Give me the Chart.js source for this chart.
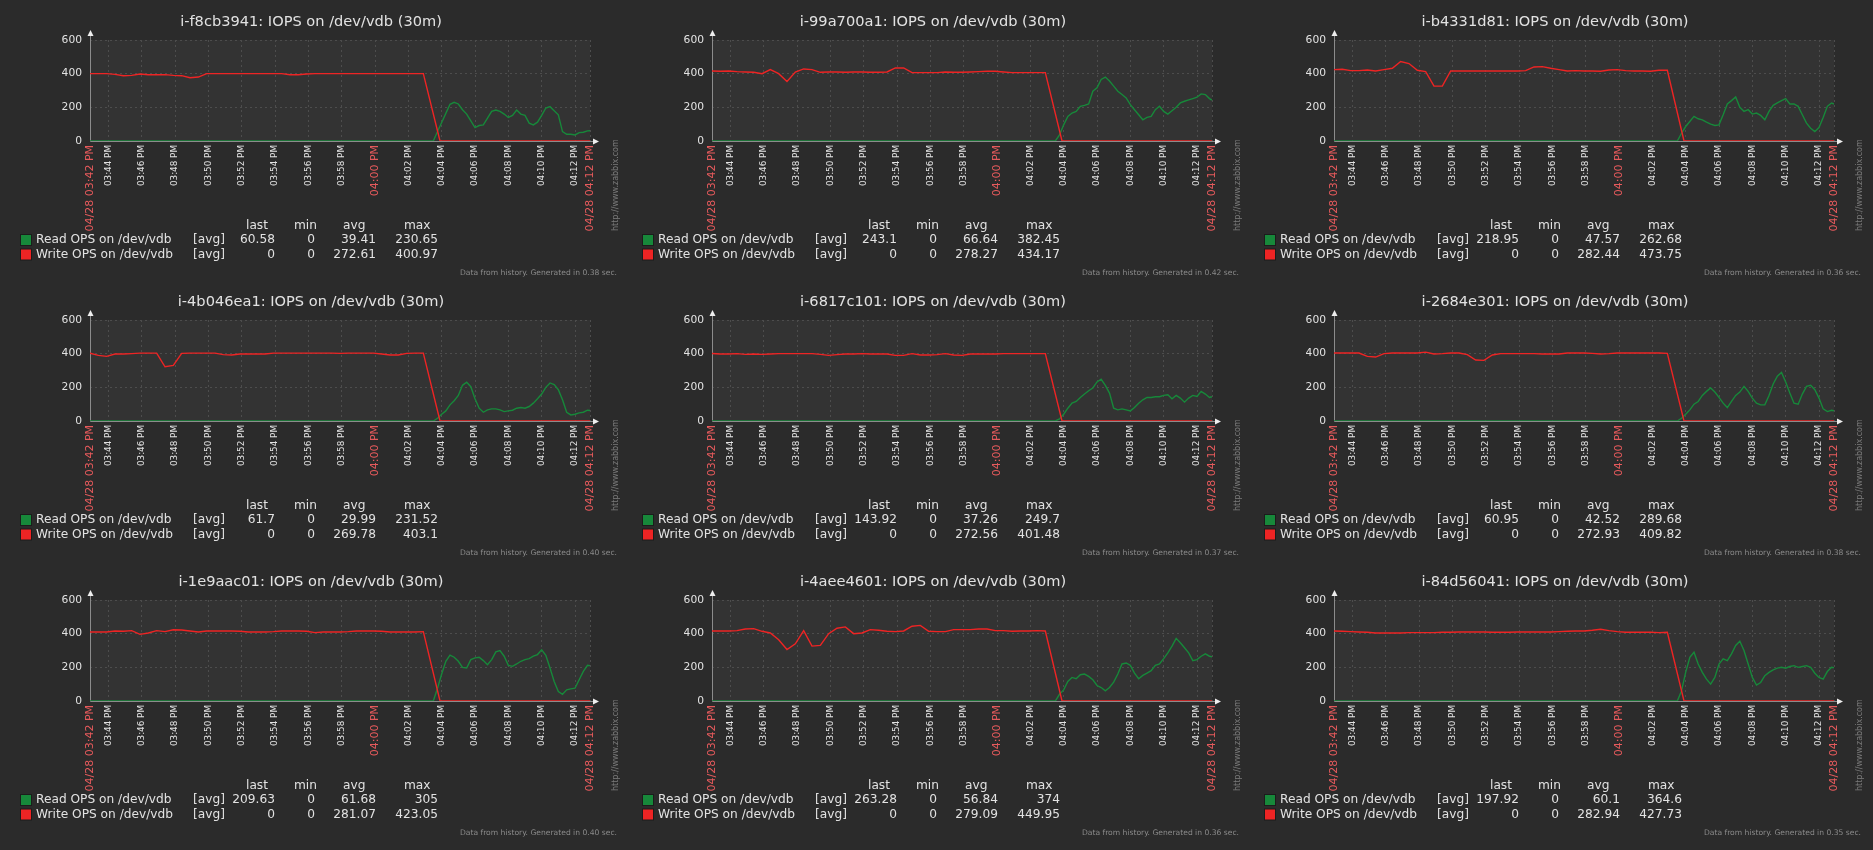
<!DOCTYPE html>
<html>
<head>
<meta charset="utf-8">
<title>IOPS on /dev/vdb (30m)</title>
<script src="https://cdn.jsdelivr.net/npm/chart.js@4.4.1/dist/chart.umd.min.js"></script>
<style>
  html, body { margin: 0; padding: 0; background: #2b2b2b; }
  #grid { position: relative; width: 1873px; height: 850px; background: #2b2b2b; overflow: hidden; }
  .panel { position: absolute; width: 622px; height: 280px; }
  .panel canvas { display: block; }
</style>
</head>
<body>
<div id="grid"></div>
<script>
// hosts, one graph each (row by row)
const HOSTS = ['i-f8cb3941', 'i-99a700a1', 'i-b4331d81',
               'i-4b046ea1', 'i-6817c101', 'i-2684e301',
               'i-1e9aac01', 'i-4aee4601', 'i-84d56041'];
const GEN_TIMES = ['0.38', '0.42', '0.36', '0.40', '0.37', '0.38', '0.40', '0.36', '0.35'];

// x axis = minutes after 03:42 PM
const TICK_MINUTES = [0.9, 2, 4, 6, 8, 10, 12, 14, 16, 18, 20, 22, 24, 26, 28, 30, 30.9];
const TICK_LABELS = ['04/28 03:42 PM', '03:44 PM', '03:46 PM', '03:48 PM', '03:50 PM', '03:52 PM',
  '03:54 PM', '03:56 PM', '03:58 PM', '04:00 PM', '04:02 PM', '04:04 PM', '04:06 PM',
  '04:08 PM', '04:10 PM', '04:12 PM', '04/28 04:12 PM'];
const RED_LABELS = ['04/28 03:42 PM', '04:00 PM', '04/28 04:12 PM'];
const Y_TICKS = [0, 200, 400, 600];

// sample times (minutes) for the two items
const WRITE_T = [0.9, 1.4, 1.9, 2.4, 2.9, 3.4, 3.9, 4.4, 4.9, 5.4, 5.9, 6.4, 6.9, 7.4, 7.9, 8.4,
  8.9, 9.4, 9.9, 10.4, 10.9, 11.4, 11.9, 12.4, 12.9, 13.4, 13.9, 14.4, 14.9, 15.4, 15.9, 16.4,
  16.9, 17.4, 17.9, 18.4, 18.9, 19.4, 19.9, 20.4, 20.9, 21.9, 30.9];
const READ_T = [0.9, 21.5, 21.75, 22, 22.25, 22.5, 22.75, 23, 23.25, 23.5, 23.75, 24, 24.25, 24.5,
  24.75, 25, 25.25, 25.5, 25.75, 26, 26.25, 26.5, 26.75, 27, 27.25, 27.5, 27.75, 28, 28.25, 28.5,
  28.75, 29, 29.25, 29.5, 29.75, 30, 30.25, 30.5, 30.75, 30.9];

// Write OPS on /dev/vdb
const write1 = [400, 400, 400, 396, 388, 390, 398, 394, 394, 394, 390, 388, 376, 380, 400, 400, 400, 400, 400, 400,
  400, 400, 400, 400, 394, 394, 398, 400, 400, 400, 400, 400, 400, 400, 400, 400, 400, 400, 400, 400, 400, 0, 0];
const write2 = [416, 414, 416, 412, 410, 408, 400, 424, 400, 354, 410, 428, 424, 408, 410, 410, 408, 410, 410, 408,
  408, 410, 434, 434, 406, 406, 406, 406, 410, 408, 408, 410, 412, 414, 414, 410, 406, 406, 406, 406, 406, 0, 0];
const write3 = [424, 426, 418, 418, 422, 416, 424, 432, 472, 460, 420, 412, 326, 326, 416, 416, 416, 416, 416, 416,
  416, 416, 416, 418, 440, 442, 432, 424, 416, 418, 416, 416, 414, 422, 424, 418, 416, 416, 414, 420, 420, 0, 0];
const write4 = [403, 390, 384, 398, 398, 400, 403, 403, 403, 322, 330, 402, 403, 403, 403, 403, 394, 392, 398, 398,
  398, 398, 403, 403, 403, 403, 403, 403, 403, 403, 402, 403, 403, 403, 403, 398, 392, 392, 402, 403, 403, 0, 0];
const write5 = [401, 398, 398, 400, 396, 398, 396, 398, 400, 400, 400, 400, 400, 396, 390, 394, 398, 398, 400, 398,
  398, 398, 390, 390, 400, 392, 392, 394, 400, 392, 390, 398, 398, 398, 398, 400, 400, 400, 400, 400, 400, 0, 0];
const write6 = [404, 404, 404, 404, 384, 380, 400, 404, 404, 404, 404, 409, 398, 400, 404, 404, 394, 362, 360, 392,
  400, 400, 400, 400, 400, 398, 398, 398, 404, 404, 404, 402, 398, 400, 404, 404, 404, 404, 404, 404, 402, 0, 0];
const write7 = [410, 410, 410, 416, 414, 418, 396, 404, 418, 412, 423, 422, 416, 410, 416, 416, 416, 416, 414, 410,
  410, 410, 412, 416, 416, 416, 414, 406, 410, 410, 410, 412, 416, 416, 416, 414, 410, 410, 410, 410, 412, 0, 0];
const write8 = [416, 416, 416, 418, 428, 430, 414, 404, 364, 306, 340, 418, 326, 330, 400, 432, 440, 400, 404, 424,
  420, 414, 412, 416, 444, 449, 414, 412, 412, 424, 424, 424, 428, 428, 418, 418, 414, 416, 416, 418, 416, 0, 0];
const write9 = [416, 414, 412, 410, 408, 404, 404, 404, 404, 406, 406, 406, 406, 408, 408, 410, 410, 410, 410, 408,
  408, 408, 410, 410, 410, 410, 410, 412, 414, 416, 416, 420, 426, 418, 412, 408, 408, 408, 408, 406, 408, 0, 0];

// Read OPS on /dev/vdb
const read1 = [0, 0, 56, 110, 164, 218, 230, 220, 186, 160, 120, 80, 92, 96, 136, 176, 184, 176, 160, 140, 152,
  184, 160, 152, 106, 96, 112, 152, 196, 204, 180, 156, 56, 40, 40, 36, 50, 52, 60, 61];
const read2 = [0, 0, 36, 96, 146, 166, 176, 206, 212, 220, 296, 316, 366, 380, 356, 326, 296, 276, 256, 216, 186,
  156, 126, 140, 146, 186, 206, 176, 160, 180, 200, 226, 236, 244, 252, 260, 280, 276, 252, 243];
const read3 = [0, 0, 46, 86, 116, 146, 132, 126, 112, 100, 92, 96, 156, 220, 240, 262, 200, 176, 186, 160, 166,
  152, 126, 176, 212, 226, 240, 252, 220, 220, 206, 156, 106, 76, 56, 80, 140, 206, 226, 219];
const read4 = [0, 0, 16, 40, 60, 96, 120, 152, 212, 230, 204, 132, 76, 52, 66, 72, 72, 66, 56, 60, 64,
  76, 80, 76, 86, 106, 132, 160, 200, 226, 216, 186, 126, 52, 36, 40, 48, 52, 64, 62];
const read5 = [0, 0, 12, 40, 76, 106, 116, 140, 160, 180, 196, 232, 248, 212, 166, 76, 66, 72, 66, 60, 80,
  106, 126, 140, 140, 144, 144, 152, 156, 132, 152, 136, 112, 136, 152, 146, 176, 160, 140, 144];
const read6 = [0, 0, 16, 40, 66, 100, 116, 152, 176, 196, 172, 140, 106, 80, 116, 152, 172, 206, 176, 136, 106,
  96, 96, 152, 220, 266, 288, 232, 166, 106, 100, 160, 206, 212, 186, 136, 72, 56, 64, 61];
const read7 = [0, 0, 76, 160, 236, 272, 260, 236, 200, 196, 246, 256, 260, 240, 216, 246, 292, 300, 266, 212, 206,
  220, 236, 246, 252, 266, 276, 304, 272, 196, 116, 56, 40, 66, 72, 76, 126, 176, 212, 210];
const read8 = [0, 0, 40, 66, 116, 140, 132, 156, 160, 146, 126, 92, 80, 60, 80, 112, 160, 220, 226, 212, 166,
  132, 152, 166, 180, 212, 220, 252, 286, 326, 372, 346, 316, 286, 240, 246, 266, 280, 266, 263];
const read9 = [0, 0, 60, 170, 260, 290, 220, 170, 130, 100, 140, 220, 250, 240, 280, 330, 355, 300, 220, 140, 95,
  110, 150, 170, 185, 195, 200, 195, 205, 210, 200, 205, 210, 200, 165, 140, 130, 175, 200, 198];

const writeSeries = [write1, write2, write3, write4, write5, write6, write7, write8, write9];
const readSeries = [read1, read2, read3, read4, read5, read6, read7, read8, read9];

// legend table values: last, min, avg, max
const READ_LAST  = ['60.58', '243.1', '218.95', '61.7', '143.92', '60.95', '209.63', '263.28', '197.92'];
const READ_MIN   = ['0', '0', '0', '0', '0', '0', '0', '0', '0'];
const READ_AVG   = ['39.41', '66.64', '47.57', '29.99', '37.26', '42.52', '61.68', '56.84', '60.1'];
const READ_MAX   = ['230.65', '382.45', '262.68', '231.52', '249.7', '289.68', '305', '374', '364.6'];
const WRITE_LAST = ['0', '0', '0', '0', '0', '0', '0', '0', '0'];
const WRITE_MIN  = ['0', '0', '0', '0', '0', '0', '0', '0', '0'];
const WRITE_AVG  = ['272.61', '278.27', '282.44', '269.78', '272.56', '272.93', '281.07', '279.09', '282.94'];
const WRITE_MAX  = ['400.97', '434.17', '473.75', '403.1', '401.48', '409.82', '423.05', '449.95', '427.73'];

const FONT = '"DejaVu Sans", Verdana, sans-serif';
const BG = '#2b2b2b';
const PLOT_BG = '#333333';
const GRID = '#4d4d4d';
const TEXT = '#e2e2e2';
const RED_TEXT = '#e65a5c';
const RED = '#ee2424';
const GREEN = '#17883a';

const PANEL_W = 622;
const PANEL_H = 280;

function toPoints(times, values) {
    return values.map((v, i) => ({ x: times[i], y: v }));
}

// draws the zabbix-style frame: backgrounds, axes with arrows, title, legend table, footer
const zabbixFrame = {
    id: 'zabbixFrame',
    beforeDraw(chart) {
        const { ctx, chartArea: a } = chart;
        ctx.save();
        ctx.fillStyle = BG;
        ctx.fillRect(0, 0, chart.width, chart.height);
        ctx.fillStyle = PLOT_BG;
        ctx.fillRect(a.left, a.top, a.right - a.left, a.bottom - a.top);
        ctx.restore();
    },
    beforeDatasetsDraw(chart) {
        const { ctx, chartArea: a } = chart;
        ctx.save();
        ctx.strokeStyle = '#8c8c8c';
        ctx.lineWidth = 1;
        ctx.beginPath();
        ctx.moveTo(a.left + 0.5, a.top - 6);
        ctx.lineTo(a.left + 0.5, a.bottom + 0.5);
        ctx.lineTo(a.right + 5, a.bottom + 0.5);
        ctx.stroke();
        ctx.fillStyle = '#eeeeee';
        ctx.beginPath();
        ctx.moveTo(a.left + 0.5, a.top - 10);
        ctx.lineTo(a.left - 2.5, a.top - 4);
        ctx.lineTo(a.left + 3.5, a.top - 4);
        ctx.fill();
        ctx.beginPath();
        ctx.moveTo(a.right + 9, a.bottom + 0.5);
        ctx.lineTo(a.right + 3, a.bottom - 2.5);
        ctx.lineTo(a.right + 3, a.bottom + 3.5);
        ctx.fill();
        ctx.restore();
    },
    afterDraw(chart) {
        const ctx = chart.ctx;
        const i = chart.options.panelIndex;
        ctx.save();

        ctx.fillStyle = TEXT;
        ctx.font = '14.6px ' + FONT;
        ctx.textAlign = 'center';
        ctx.textBaseline = 'middle';
        ctx.fillText(HOSTS[i] + ': IOPS on /dev/vdb (30m)', PANEL_W / 2, 22);

        // legend table
        ctx.font = '12.2px ' + FONT;
        ctx.textAlign = 'left';
        ctx.fillText('last', 246, 226);
        ctx.fillText('min', 294, 226);
        ctx.fillText('avg', 343, 226);
        ctx.fillText('max', 404, 226);
        const rows = [
            { color: GREEN, name: 'Read OPS on /dev/vdb', vals: [READ_LAST[i], READ_MIN[i], READ_AVG[i], READ_MAX[i]] },
            { color: RED, name: 'Write OPS on /dev/vdb', vals: [WRITE_LAST[i], WRITE_MIN[i], WRITE_AVG[i], WRITE_MAX[i]] }
        ];
        const rights = [275, 315, 376, 438];
        rows.forEach((r, k) => {
            const y = 240 + k * 14.5;
            ctx.fillStyle = '#1c1c1c';
            ctx.fillRect(20, y - 6, 12, 12);
            ctx.fillStyle = r.color;
            ctx.fillRect(21, y - 5, 10, 10);
            ctx.fillStyle = TEXT;
            ctx.textAlign = 'left';
            ctx.fillText(r.name, 36, y);
            ctx.fillText('[avg]', 193, y);
            ctx.textAlign = 'right';
            r.vals.forEach((v, j) => ctx.fillText(v, rights[j], y));
        });

        ctx.fillStyle = '#8a8a8a';
        ctx.font = '7.6px ' + FONT;
        ctx.textAlign = 'right';
        ctx.fillText('Data from history. Generated in ' + GEN_TIMES[i] + ' sec.', 617, 273);

        ctx.translate(616, 231);
        ctx.rotate(-Math.PI / 2);
        ctx.fillStyle = '#7a7a7a';
        ctx.font = '8px ' + FONT;
        ctx.textAlign = 'left';
        ctx.fillText('http://www.zabbix.com', 0, 0);
        ctx.restore();
    }
};

function makeChart(canvas, i) {
    return new Chart(canvas.getContext('2d'), {
        type: 'line',
        data: {
            datasets: [
                {
                    label: 'Read OPS on /dev/vdb',
                    data: toPoints(READ_T, readSeries[i]),
                    borderColor: GREEN,
                    borderWidth: 1.4,
                    pointRadius: 0,
                    tension: 0,
                    order: 1
                },
                {
                    label: 'Write OPS on /dev/vdb',
                    data: toPoints(WRITE_T, writeSeries[i]),
                    borderColor: RED,
                    borderWidth: 1.4,
                    pointRadius: 0,
                    tension: 0,
                    order: 0
                }
            ]
        },
        options: {
            panelIndex: i,
            responsive: false,
            animation: false,
            events: [],
            layout: { padding: { top: 40, right: 32, left: 0, bottom: 0 } },
            plugins: {
                legend: { display: false },
                title: { display: false },
                tooltip: { enabled: false }
            },
            scales: {
                x: {
                    type: 'linear',
                    min: TICK_MINUTES[0],
                    max: TICK_MINUTES[TICK_MINUTES.length - 1],
                    afterBuildTicks: scale => { scale.ticks = TICK_MINUTES.map(v => ({ value: v })); },
                    afterFit: scale => { scale.height = PANEL_H - 141; },
                    ticks: {
                        autoSkip: false,
                        minRotation: 90,
                        maxRotation: 90,
                        padding: 4,
                        callback: (v, idx) => TICK_LABELS[idx],
                        color: c => RED_LABELS.includes(TICK_LABELS[c.index]) ? RED_TEXT : TEXT,
                        font: c => ({ family: FONT, size: RED_LABELS.includes(TICK_LABELS[c.index]) ? 11 : 8.8 })
                    },
                    grid: {
                        drawTicks: false,
                        color: c => (c.index === 0 ? 'rgba(0,0,0,0)' : GRID)
                    },
                    border: { display: false, dash: [2, 3] }
                },
                y: {
                    min: 0,
                    max: 600,
                    afterBuildTicks: scale => { scale.ticks = Y_TICKS.map(v => ({ value: v })); },
                    afterFit: scale => { scale.width = 90; },
                    ticks: {
                        padding: 8,
                        color: TEXT,
                        font: { family: FONT, size: 10.7 }
                    },
                    grid: {
                        drawTicks: false,
                        color: c => (c.tick && c.tick.value === 0 ? 'rgba(0,0,0,0)' : GRID)
                    },
                    border: { display: false, dash: [2, 3] }
                }
            }
        },
        plugins: [zabbixFrame]
    });
}

document.addEventListener('DOMContentLoaded', () => {
    const grid = document.getElementById('grid');
    HOSTS.forEach((host, i) => {
        const panel = document.createElement('div');
        panel.className = 'panel';
        panel.style.left = (i % 3) * PANEL_W + 'px';
        panel.style.top = Math.floor(i / 3) * PANEL_H + 'px';
        const canvas = document.createElement('canvas');
        canvas.width = PANEL_W;
        canvas.height = PANEL_H;
        panel.appendChild(canvas);
        grid.appendChild(panel);
        makeChart(canvas, i);
    });
});
</script>
</body>
</html>
